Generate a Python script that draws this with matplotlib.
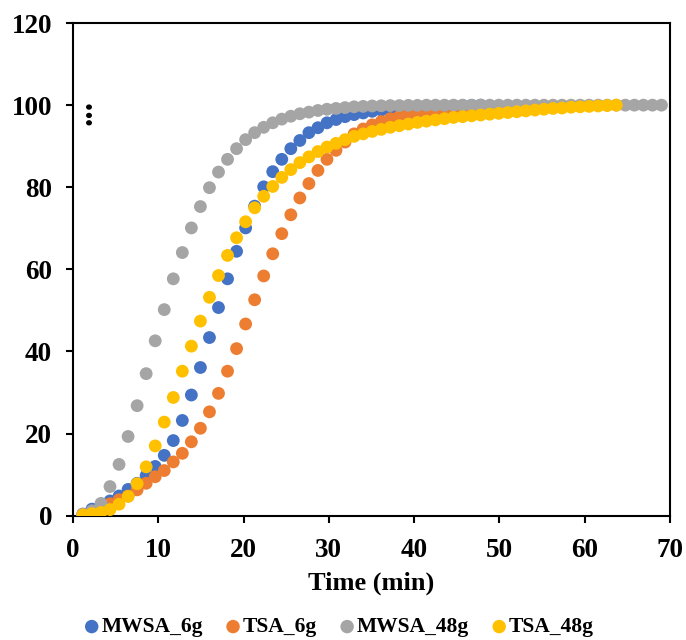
import matplotlib.pyplot as plt

plt.rcParams["font.family"] = ["Liberation Serif", "DejaVu Serif"]
plt.rcParams["font.weight"] = "bold"

# sampling times (min)
TIME = [1.16, 2.22, 3.28, 4.34, 5.40, 6.46, 7.52, 8.58, 9.64, 10.70,
        11.76, 12.82, 13.88, 14.94, 16.00, 17.06, 18.12, 19.18, 20.24, 21.30,
        22.36, 23.42, 24.48, 25.54, 26.60, 27.66, 28.72, 29.78, 30.84, 31.90,
        32.96, 34.02, 35.08, 36.14, 37.20, 38.26, 39.32, 40.38, 41.44, 42.50,
        43.56, 44.62, 45.68, 46.74, 47.80, 48.86, 49.92, 50.98, 52.04, 53.10,
        54.16, 55.22, 56.28, 57.34, 58.40, 59.46, 60.52, 61.58, 62.64, 63.70,
        64.76, 65.82, 66.88, 67.94, 69.00]

MWSA_6G = [0.4, 1.6, 2.6, 3.6, 4.8, 6.4, 7.9, 9.8, 12.0, 14.7,
           18.3, 23.2, 29.4, 36.1, 43.4, 50.7, 57.7, 64.4, 70.1, 75.4,
           80.1, 83.8, 86.8, 89.4, 91.4, 93.3, 94.5, 95.7, 96.5, 97.2,
           97.7, 98.1, 98.5, 98.8, 99.0, 99.2, 99.4, 99.5, 99.6, 99.7,
           99.8, 99.85, 99.9, 99.95, 100.0]

TSA_6G = [0.3, 0.9, 1.8, 2.9, 3.9, 4.8, 6.3, 7.9, 9.5, 11.0,
          13.1, 15.2, 18.0, 21.3, 25.3, 29.8, 35.2, 40.7, 46.7, 52.6,
          58.4, 63.8, 68.7, 73.3, 77.4, 80.9, 84.1, 86.8, 89.0, 91.0,
          93.0, 94.2, 95.2, 96.0, 96.7, 97.3, 97.8, 98.2, 98.5, 98.8,
          99.0, 99.2, 99.35, 99.5, 99.6, 99.7, 99.75, 99.8, 99.85]

MWSA_48G = [0.3, 1.2, 3.0, 7.1, 12.5, 19.3, 26.8, 34.6, 42.6, 50.2,
            57.7, 64.1, 70.1, 75.3, 79.9, 83.7, 86.8, 89.4, 91.6, 93.3,
            94.6, 95.7, 96.6, 97.3, 97.9, 98.3, 98.7, 99.0, 99.2, 99.4,
            99.6, 99.7, 99.8, 99.85, 99.9, 99.9, 99.95, 99.95, 100.0, 100.0,
            100.0, 100.0, 100.0, 100.0, 100.0, 100.0, 100.0, 100.0, 100.0, 100.0,
            100.0, 100.0, 100.0, 100.0, 100.0, 100.0, 100.0, 100.0, 100.0, 100.0,
            100.0, 100.0, 100.0, 100.0, 100.0]

TSA_48G = [0.2, 0.5, 0.8, 1.5, 2.8, 4.7, 7.8, 11.9, 17.0, 22.8,
           28.8, 35.2, 41.3, 47.4, 53.2, 58.5, 63.4, 67.7, 71.6, 75.0,
           77.8, 80.2, 82.4, 84.3, 86.0, 87.4, 88.7, 89.8, 90.7, 91.6,
           92.4, 93.0, 93.6, 94.1, 94.6, 95.0, 95.4, 95.8, 96.1, 96.4,
           96.7, 97.0, 97.2, 97.4, 97.6, 97.8, 98.0, 98.2, 98.4, 98.6,
           98.8, 99.0, 99.2, 99.3, 99.5, 99.6, 99.7, 99.8, 99.9, 100.0]

SERIES = [
    ("MWSA_6g", MWSA_6G, "#4472C4"),
    ("TSA_6g", TSA_6G, "#ED7D31"),
    ("MWSA_48g", MWSA_48G, "#A5A5A5"),
    ("TSA_48g", TSA_48G, "#FFC000"),
]

fig = plt.figure(figsize=(6.86, 6.4), dpi=100)
ax = fig.add_axes([0.1064, 0.1942, 0.8703, 0.7698])

for name, vals, color in SERIES:
    ax.scatter(TIME[:len(vals)], vals, s=85, color=color, edgecolors="none",
               label=name, zorder=3)

ax.set_xlim(0, 70)
ax.set_ylim(0, 120)
ax.set_xticks(range(0, 71, 10))
ax.set_yticks(range(0, 121, 20))
ax.tick_params(axis="both", which="both", direction="out", length=5, width=1.5,
               labelsize=19.5, top=False, right=False)
ax.tick_params(axis="x", pad=11)
ax.tick_params(axis="y", pad=10)
for sp in ax.spines.values():
    sp.set_linewidth(1.5)
    sp.set_color("black")

ax.set_xlabel("Time (min)", fontsize=19, fontweight="bold", labelpad=6)
ax.text(1.2, 98.3, "...", rotation=90, fontsize=24, fontweight="bold",
        ha="center", va="center")

leg = fig.legend(loc="center", bbox_to_anchor=(0.495, 0.02), ncol=4,
                 frameon=False, fontsize=15.5, handlelength=0.6,
                 handletextpad=0.15, columnspacing=1.1, markerscale=1.05,
                 borderaxespad=0)

fig.savefig("out.png", dpi=100)
